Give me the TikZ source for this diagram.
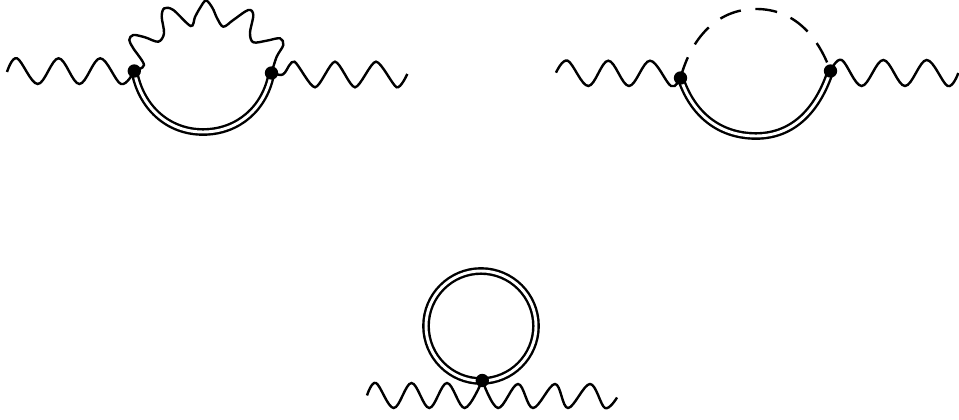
\documentclass[tikz,border=0pt]{standalone}
\tikzset{
  x=0.75pt,y=0.75pt,
  vertexdot/.style={circle,fill=black,inner sep=0pt,minimum size=10pt},
  wavyline/.style={line width=1.8pt,smooth,tension=0.6},
  dbl/.style={line width=1.8pt,double,double distance=2.2pt},
  scalar/.style={line width=1.8pt,dash pattern=on 16.5pt off 11pt},
}
\begin{document}
\begin{tikzpicture}
\useasboundingbox (0,0) rectangle (959,420);
% vertices and free ends
\coordinate (a1) at (7,348);
\coordinate (a2) at (407.3,346);
\coordinate (ab) at (203,288);
\coordinate (b1) at (556,347.3);
\coordinate (b2) at (958.3,347);
\coordinate (bb) at (756,284);
\coordinate (bt) at (756,411);
\coordinate (c1) at (367,24.5);
\coordinate (c2) at (617,22.5);
\coordinate (va) at (134.3,349);
\coordinate (vb) at (271.5,347);
\coordinate (vc) at (680.5,342);
\coordinate (vd) at (830.5,349);
\coordinate (ve) at (482.3,39.5);
% first diagram
\draw[wavyline] plot coordinates {(a1) (17,361.7) (37.8,336) (58.6,361.7) (79.4,336) (100.2,361.7) (121,336) (va)};
\draw[wavyline,tension=0.45] plot coordinates {(vb) (281,345) (285,347.5) (294.5,358.3) (315,332.7) (335,358.3) (355,332.7) (376,358.3) (396.7,332.7) (a2)};
\draw[dbl] (va) to[out=-80,in=180] (ab) to[out=0,in=-100] (vb);
\draw[line width=1.8pt,smooth,tension=0.55] plot coordinates {(va) (144,355) (133.3,371.7) (129.3,380) (133.3,385) (145,382.7) (158.3,378.3) (164,386.7) (161.7,403.3) (164.3,411.7) (173.3,410) (190.7,394) (195,403) (200,412) (206,419.5) (212.5,412) (217,402) (223.3,393.3) (233.3,400) (248.3,410) (253.3,405) (250,387) (253.3,377.7) (266.7,379.3) (280,381.7) (283.3,375) (276.7,363.3) (vb)};
% second diagram
\draw[wavyline] plot coordinates {(b1) (567.7,359.3) (588.3,334) (608.3,359.3) (629,334) (650,359.3) (671,334) (vc)};
\draw[wavyline] plot coordinates {(vd) (841.7,360) (861.7,334) (883.3,360) (905,334) (926.7,360) (947.7,334) (b2)};
\draw[dbl] (vc) to[out=-72,in=180] (bb) to[out=0,in=-108] (vd);
\draw[scalar] (vc) to[out=75,in=180] (bt) to[out=0,in=110] (vd);
% third diagram
\node[draw,circle,dbl,minimum size=82.5pt,inner sep=0pt] (loop) at (481,94) {};
\draw[wavyline] plot coordinates {(c1) (376,37) (393.75,12) (411.5,37) (429.25,12) (447,37) (464.75,12) (ve)};
\draw[wavyline] plot coordinates {(ve) (498,12) (518,36) (533,12) (555,36) (568,12) (590,36) (605,12) (c2)};
% dots
\node[vertexdot] (dota) at (va) {};
\node[vertexdot] (dotb) at (vb) {};
\node[vertexdot] (dotc) at (vc) {};
\node[vertexdot] (dotd) at (vd) {};
\node[vertexdot] (dote) at (ve) {};
\end{tikzpicture}
\end{document}
